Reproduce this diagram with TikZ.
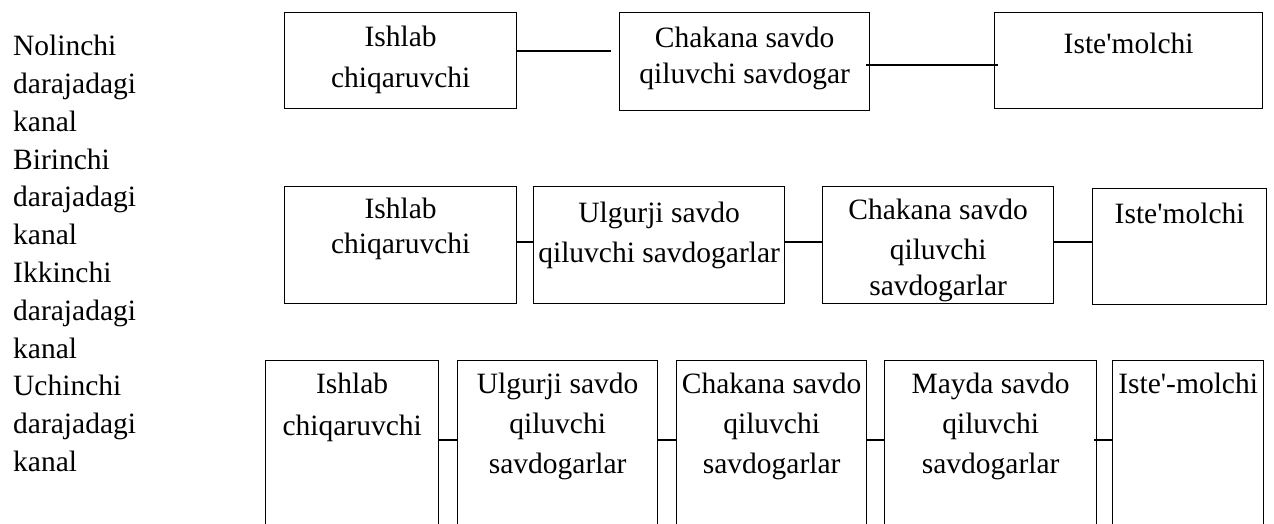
\documentclass[tikz,border=0pt]{standalone}
\usepackage{fontspec}
\setmainfont{Liberation Serif}[Ligatures=TeXOff]
\usetikzlibrary{calc}
\begin{document}
\begin{tikzpicture}[x=1pt,y=-1pt,
  chbox/.style={draw, line width=1.3pt, anchor=north west, inner sep=0pt},
  chtxt/.style={anchor=north, align=center, inner sep=0pt,
    font=\fontsize{29.5}{40}\selectfont},
  link/.style={line width=1.3pt}]
\useasboundingbox (0,0) rectangle (1274,524);
\clip (0,0) rectangle (1274,524);

% level names
\node[anchor=north west, align=left, inner sep=0pt,
  font=\fontsize{29.5}{37.8}\selectfont] (levels) at (13,35)
  {Nolinchi\\darajadagi\\kanal\\Birinchi\\darajadagi\\kanal\\
   Ikkinchi\\darajadagi\\kanal\\Uchinchi\\darajadagi\\kanal};

% zero level
\node[chbox, minimum width=232, minimum height=96] (a1) at (284,12) {};
\node[chbox, minimum width=250, minimum height=98] (b1) at (619,12) {};
\node[chbox, minimum width=268, minimum height=96] (c1) at (994,12) {};
\node[chtxt] (a1t) at ([yshift=-14pt]a1.north) {Ishlab\\[1pt]chiqaruvchi};
\node[chtxt] (b1t) at ([yshift=-15pt]b1.north) {Chakana savdo\\[-4pt]qiluvchi savdogar};
\node[chtxt] (c1t) at ([yshift=-21pt]c1.north) {Iste'molchi};
\coordinate (r1a) at (0,51);
\coordinate (r1b) at (0,65);
\draw[link] (a1.east |- r1a) -- ($(b1.west |- r1a)+(-8,0)$);
\draw[link] ($(b1.east |- r1b)+(-4,0)$) -- ($(c1.west |- r1b)+(4,0)$);

% first level
\node[chbox, minimum width=232, minimum height=117] (a2) at (284,186) {};
\node[chbox, minimum width=251, minimum height=117] (b2) at (533,186) {};
\node[chbox, minimum width=231, minimum height=117] (c2) at (822,186) {};
\node[chbox, minimum width=174, minimum height=116] (d2) at (1092,188) {};
\node[chtxt] (a2t) at ([yshift=-12pt]a2.north) {Ishlab\\[-5pt]chiqaruvchi};
\node[chtxt] (b2t) at ([yshift=-16pt]b2.north) {Ulgurji savdo\\qiluvchi savdogarlar};
\node[chtxt] (c2t) at ([yshift=-13pt]c2.north) {Chakana savdo\\qiluvchi\\[-4pt]savdogarlar};
\node[chtxt] (d2t) at ([yshift=-15pt]d2.north) {Iste'molchi};
\coordinate (r2) at (0,242);
\draw[link] (a2.east |- r2) -- (b2.west |- r2);
\draw[link] (b2.east |- r2) -- (c2.west |- r2);
\draw[link] (c2.east |- r2) -- (d2.west |- r2);

% second and third level chain, open at the bottom
\node[chbox, minimum width=173, minimum height=190] (a3) at (265,360) {};
\node[chbox, minimum width=200, minimum height=190] (b3) at (457,360) {};
\node[chbox, minimum width=190, minimum height=190] (c3) at (676,360) {};
\node[chbox, minimum width=212, minimum height=190] (d3) at (884,360) {};
\node[chbox, minimum width=151, minimum height=190] (e3) at (1112,360) {};
\node[chtxt] (a3t) at ([yshift=-13pt]a3.north) {Ishlab\\[2pt]chiqaruvchi};
\node[chtxt] (b3t) at ([yshift=-13pt]b3.north) {Ulgurji savdo\\qiluvchi\\savdogarlar};
\node[chtxt] (c3t) at ([yshift=-13pt]c3.north) {Chakana savdo\\qiluvchi\\savdogarlar};
\node[chtxt] (d3t) at ([yshift=-13pt]d3.north) {Mayda savdo\\qiluvchi\\savdogarlar};
\node[chtxt] (e3t) at ([yshift=-13pt]e3.north) {Iste'-molchi};
\coordinate (r3) at (0,440);
\draw[link] (a3.east |- r3) -- (b3.west |- r3);
\draw[link] (b3.east |- r3) -- (c3.west |- r3);
\draw[link] (c3.east |- r3) -- (d3.west |- r3);
\draw[link] ($(d3.east |- r3)+(-3,0)$) -- (e3.west |- r3);
\end{tikzpicture}
\end{document}
